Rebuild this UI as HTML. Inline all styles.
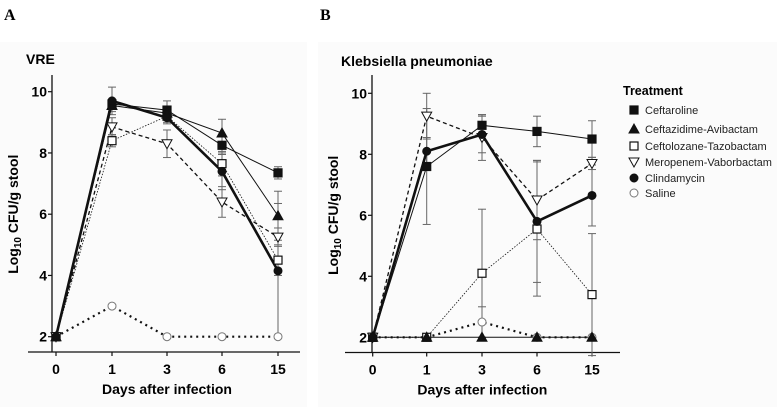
<!DOCTYPE html>
<html><head><meta charset="utf-8">
<style>
html,body{margin:0;padding:0;background:#fff;}
svg{display:block;font-family:"Liberation Sans",Arial,sans-serif;}
</style></head>
<body>
<svg id="chart" width="777" height="407" viewBox="0 0 777 407" xmlns="http://www.w3.org/2000/svg">
<rect x="0" y="42" width="307" height="365" fill="#fbfbfb"/>
<rect x="318" y="42" width="459" height="365" fill="#fbfbfb"/>
<text x="4" y="20" font-family="Liberation Serif,serif" font-weight="bold" font-size="16">A</text>
<text x="320" y="20" font-family="Liberation Serif,serif" font-weight="bold" font-size="16">B</text>
<text x="26" y="64" font-weight="bold" font-size="14">VRE</text>
<text x="341" y="66" font-weight="bold" font-size="14">Klebsiella pneumoniae</text>
</svg>
<script>
const days = ["0","1","3","6","15"];
const yTicks = [2,4,6,8,10];
const seriesNames = ["Ceftaroline","Ceftazidime-Avibactam","Ceftolozane-Tazobactam","Meropenem-Vaborbactam","Clindamycin","Saline"];
// Panel A (VRE)
const vreCeftaroline = [2,9.6,9.4,8.25,7.35];
const vreCeftazidime = [2,9.55,9.3,8.65,5.95];
const vreCeftolozane = [2,8.4,9.2,7.65,4.5];
const vreMeropenem = [2,8.85,8.3,6.4,5.25];
const vreClindamycin = [2,9.7,9.15,7.4,4.15];
const vreSaline = [2,3,2,2,2];
const vreErrCeftaroline = [0,0.1,0.3,0.3,0.2];
const vreErrCeftazidime = [0,0.2,0.2,0.45,0.8];
const vreErrCeftolozane = [0,0.2,0.2,0.4,0.5];
const vreErrMeropenem = [0,0.3,0.45,0.5,0.3];
const vreErrClindamycin = [0,0.45,0.2,0.6,2.2];
const vreErrSaline = [0,0,0,0,0];
// Panel B (Klebsiella)
const kpCeftaroline = [2,7.6,8.95,8.75,8.5];
const kpCeftazidime = [2,2,2,2,2];
const kpCeftolozane = [2,2,4.1,5.55,3.4];
const kpMeropenem = [2,9.25,8.55,6.5,7.7];
const kpClindamycin = [2,8.1,8.65,5.8,6.65];
const kpSaline = [2,2,2.5,2,2];
const kpErrCeftaroline = [0,1.9,0.35,0.5,0.6];
const kpErrCeftazidime = [0,0,0,0,0];
const kpErrCeftolozane = [0,0,2.1,2.2,2.0];
const kpErrMeropenem = [0,0.75,0.75,1.3,0.2];
const kpErrClindamycin = [0,0.45,0.6,2.0,1.0];
const kpErrSaline = [0,0,0.5,0,0];

const NS="http://www.w3.org/2000/svg";
const svg=document.getElementById('chart');
function mk(tag,attrs,parent){const e=document.createElementNS(NS,tag);for(const k in attrs)e.setAttribute(k,attrs[k]);(parent||svg).appendChild(e);return e;}

const styles=[
 {marker:'square',fill:'#111',w:1,dash:''},
 {marker:'tri',fill:'#111',w:1,dash:''},
 {marker:'square',fill:'#fff',w:0.8,dash:'1.5,1.5'},
 {marker:'dtri',fill:'#fff',w:1.3,dash:'4,3'},
 {marker:'circle',fill:'#111',w:2.6,dash:''},
 {marker:'circle',fill:'#fff',w:2.2,dash:'2,4'}
];

function drawMarker(g,type,cx,cy,fill,s){
  let e;
  if(type==='square') e=mk('rect',{x:cx-s,y:cy-s,width:2*s,height:2*s,fill:fill,stroke:'#111','stroke-width':1.2},g);
  else if(type==='circle') e=mk('circle',{cx:cx,cy:cy,r:s,fill:fill,stroke:fill==='#fff'?'#777':'#111','stroke-width':1},g);
  else if(type==='tri') e=mk('polygon',{points:`${cx},${cy-s-1} ${cx-s-1},${cy+s} ${cx+s+1},${cy+s}`,fill:fill,stroke:'#111','stroke-width':1},g);
  else e=mk('polygon',{points:`${cx},${cy+s+1} ${cx-s-1},${cy-s} ${cx+s+1},${cy-s}`,fill:fill,stroke:'#111','stroke-width':1},g);
  return e;
}

function panel(cfg){
  const {xs,y10,y2,axisX,axisY,xStart,xEnd,id,data,errs}=cfg;
  const yS=v=>y2+(v-2)*(y10-y2)/8;
  const g=mk('g',{});
  
  
  const ya=mk('line',{x1:axisX,y1:75,x2:axisX,y2:axisY,stroke:'#111','stroke-width':1.3},g);
  
  const xa=mk('line',{x1:xStart,y1:axisY,x2:xEnd,y2:axisY,stroke:'#111','stroke-width':1.3},g);
  
  yTicks.forEach(t=>{
    mk('line',{x1:axisX-4,y1:yS(t),x2:axisX,y2:yS(t),stroke:'#111','stroke-width':1.2},g);
    const tx=mk('text',{x:axisX-5,y:yS(t)+5,'text-anchor':'end','font-size':14,'font-weight':'bold'},g);
    tx.textContent=t;
    
  });
  days.forEach((d,i)=>{
    mk('line',{x1:xs[i],y1:axisY,x2:xs[i],y2:axisY+4,stroke:'#111','stroke-width':1.2},g);
    const tx=mk('text',{x:xs[i],y:axisY+22,'text-anchor':'middle','font-size':14,'font-weight':'bold'},g);
    tx.textContent=d;
    
  });
  const xt=mk('text',{x:(xs[0]+xs[4])/2,y:axisY+42,'text-anchor':'middle','font-size':14,'font-weight':'bold'},g);
  xt.textContent='Days after infection';
  
  const yt=mk('text',{transform:`translate(${axisX-34},${(y10+y2)/2}) rotate(-90)`,'text-anchor':'middle','font-size':14,'font-weight':'bold'},g);
  yt.innerHTML='Log<tspan font-size="10" dy="3">10</tspan><tspan dy="-3"> CFU/g stool</tspan>';
  
  data.forEach((vals,si)=>{
    vals.forEach((v,i)=>{
      const e=errs[si][i]; if(!e) return;
      const eg=mk('g',{stroke:'#666','stroke-width':1},g);
      
      mk('line',{x1:xs[i],y1:yS(v-e),x2:xs[i],y2:yS(v+e)},eg);
      mk('line',{x1:xs[i]-4,y1:yS(v-e),x2:xs[i]+4,y2:yS(v-e)},eg);
      mk('line',{x1:xs[i]-4,y1:yS(v+e),x2:xs[i]+4,y2:yS(v+e)},eg);
    });
  });
  [5,2,0,1,3,4].forEach(si=>{
    const st=styles[si];
    const pts=data[si].map((v,i)=>`${xs[i]},${yS(v)}`).join(' ');
    const pl=mk('polyline',{points:pts,fill:'none',stroke:'#111','stroke-width':st.w,'stroke-dasharray':st.dash},g);
    
    
  });
  [5,2,0,1,3,4].forEach(si=>{
    const st=styles[si];
    data[si].forEach((v,i)=>{
      const m=drawMarker(g,st.marker,xs[i],yS(v),st.fill,4);
      
      
    });
  });
}

panel({id:'vre',xs:[56,112,167,222,278],y10:91.7,y2:336.7,axisX:52,axisY:352,xStart:28,xEnd:300,
  data:[vreCeftaroline,vreCeftazidime,vreCeftolozane,vreMeropenem,vreClindamycin,vreSaline],
  errs:[vreErrCeftaroline,vreErrCeftazidime,vreErrCeftolozane,vreErrMeropenem,vreErrClindamycin,vreErrSaline]});
panel({id:'kp',xs:[372.7,426.7,482,537,592],y10:93.3,y2:337.3,axisX:372,axisY:352.5,xStart:345,xEnd:620,
  data:[kpCeftaroline,kpCeftazidime,kpCeftolozane,kpMeropenem,kpClindamycin,kpSaline],
  errs:[kpErrCeftaroline,kpErrCeftazidime,kpErrCeftolozane,kpErrMeropenem,kpErrClindamycin,kpErrSaline]});

const lg=mk('g',{});


const lt=mk('text',{x:623,y:95,'font-size':12.5,'font-weight':'bold'},lg);
lt.textContent='Treatment';


const legY=[110,129,146,162,178,193];
seriesNames.forEach((n,i)=>{
  const st=styles[i];
  const eg=mk('g',{},lg);
  
  
  drawMarker(eg,st.marker,634,legY[i],st.fill,4);
  const t=mk('text',{x:645,y:legY[i]+4,'font-size':11,fill:'#222'},eg);
  t.textContent=n;
});
</script>
</body></html>
